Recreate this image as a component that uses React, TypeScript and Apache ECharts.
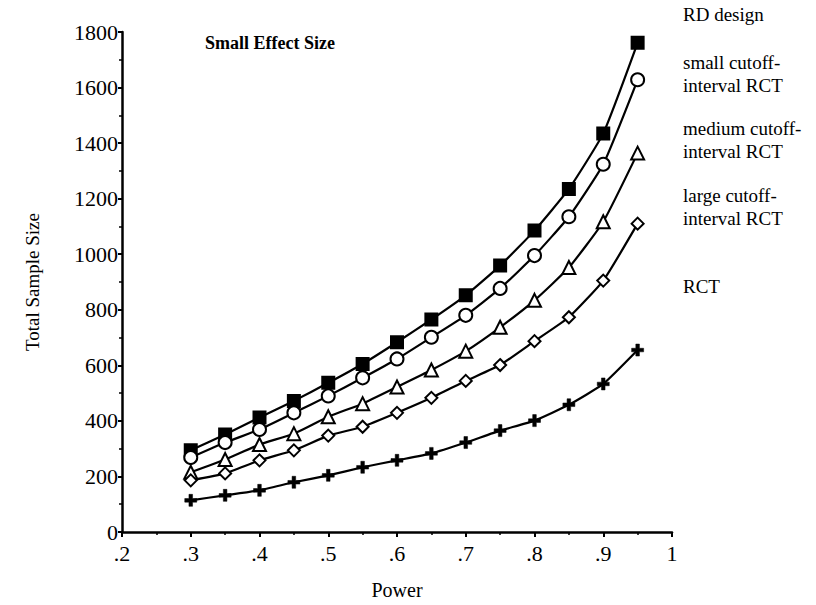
import React, { useEffect, useRef } from "react";
import * as echarts from "echarts";

const power = [0.3, 0.35, 0.4, 0.45, 0.5, 0.55, 0.6, 0.65, 0.7, 0.75, 0.8, 0.85, 0.9, 0.95];
const rdDesign = [294, 351, 412, 472, 537, 605, 683, 765, 852, 959, 1085, 1235, 1435, 1761];
const smallCutoff = [268, 322, 369, 429, 490, 555, 623, 701, 780, 877, 995, 1135, 1324, 1628];
const mediumCutoff = [215, 261, 315, 354, 415, 462, 522, 583, 651, 737, 834, 952, 1117, 1364];
const largeCutoff = [186, 211, 258, 294, 347, 379, 429, 483, 544, 601, 687, 773, 905, 1110];
const rct = [114, 132, 150, 179, 204, 233, 258, 283, 322, 365, 401, 458, 533, 655];
const seriesLabels = [
  "RD design",
  "small cutoff-\ninterval RCT",
  "medium cutoff-\ninterval RCT",
  "large cutoff-\ninterval RCT",
  "RCT",
];

const FONT = "Liberation Serif";
const PLUS = "path://M3.5,0 H6.5 V3.5 H10 V6.5 H6.5 V10 H3.5 V6.5 H0 V3.5 H3.5 Z";

export default function App() {
  const ref = useRef<HTMLDivElement>(null);
  useEffect(() => {
    if (!ref.current) return;
    const chart = echarts.init(ref.current, null, { renderer: "svg" });
    const mk = (name: string, vals: number[], symbol: string, size: number, filled: boolean) => ({
      name,
      type: "line",
      data: power.map((p, i) => [p, vals[i]]),
      symbol,
      symbolSize: size,
      showAllSymbol: true,
      smooth: 0.15,
      lineStyle: { color: "#000", width: 2.2 },
      itemStyle: { color: filled ? "#000" : "#fff", borderColor: "#000", borderWidth: 2 },
      z: 3,
    });
    const labelStyle = { fontFamily: FONT, fontSize: 19, fill: "#000", lineHeight: 23 };
    chart.setOption({
      animation: false,
      backgroundColor: "#fff",
      textStyle: { fontFamily: FONT },
      grid: { left: 122, right: 144, top: 32, bottom: 70 },
      xAxis: {
        type: "value",
        min: 0.2,
        max: 1,
        interval: 0.1,
        name: "Power",
        nameLocation: "middle",
        nameGap: 48,
        nameTextStyle: { fontFamily: FONT, fontSize: 20, color: "#000" },
        axisLine: { lineStyle: { color: "#000", width: 2.5 } },
        axisTick: { show: true, inside: false, length: 5, lineStyle: { color: "#000", width: 2 } },
        minorTick: { show: true, splitNumber: 2, length: 3, lineStyle: { color: "#000", width: 1.5 } },
        splitLine: { show: false },
        axisLabel: {
          fontFamily: FONT,
          fontSize: 22,
          color: "#000",
          margin: 10,
          formatter: (v: number) => (Math.abs(v - 1) < 1e-9 ? "1" : v.toFixed(1).replace(/^0/, "")),
        },
      },
      yAxis: {
        type: "value",
        min: 0,
        max: 1800,
        interval: 200,
        name: "Total Sample Size",
        nameLocation: "middle",
        nameGap: 80,
        nameRotate: 90,
        nameTextStyle: { fontFamily: FONT, fontSize: 19, color: "#000" },
        axisLine: { show: true, lineStyle: { color: "#000", width: 2.5 } },
        axisTick: { show: true, inside: false, length: 4, lineStyle: { color: "#000", width: 2 } },
        minorTick: { show: true, splitNumber: 2, length: 3, lineStyle: { color: "#000", width: 1.5 } },
        splitLine: { show: false },
        axisLabel: { fontFamily: FONT, fontSize: 22, color: "#000", margin: 4, formatter: (v: number) => String(v) },
      },
      series: [
        mk(seriesLabels[0], rdDesign, "rect", 12, true),
        mk(seriesLabels[1], smallCutoff, "circle", 13, false),
        mk(seriesLabels[2], mediumCutoff, "triangle", 13, false),
        mk(seriesLabels[3], largeCutoff, "diamond", 12, false),
        { ...mk(seriesLabels[4], rct, PLUS, 12, true), itemStyle: { color: "#000", borderColor: "#000", borderWidth: 0.5 } },
      ],
      graphic: [
        { type: "text", left: 205, top: 34, style: { text: "Small Effect Size", fontFamily: FONT, fontSize: 18, fontWeight: "bold", fill: "#000" } },
        { type: "text", left: 683, top: 3, style: { ...labelStyle, text: seriesLabels[0] } },
        { type: "text", left: 683, top: 51, style: { ...labelStyle, text: seriesLabels[1] } },
        { type: "text", left: 683, top: 117, style: { ...labelStyle, text: seriesLabels[2] } },
        { type: "text", left: 683, top: 184, style: { ...labelStyle, text: seriesLabels[3] } },
        { type: "text", left: 683, top: 275, style: { ...labelStyle, text: seriesLabels[4] } },
      ],
    });
    return () => chart.dispose();
  }, []);
  return <div ref={ref} style={{ width: 816, height: 605, position: "absolute", left: 0, top: 0 }} />;
}
